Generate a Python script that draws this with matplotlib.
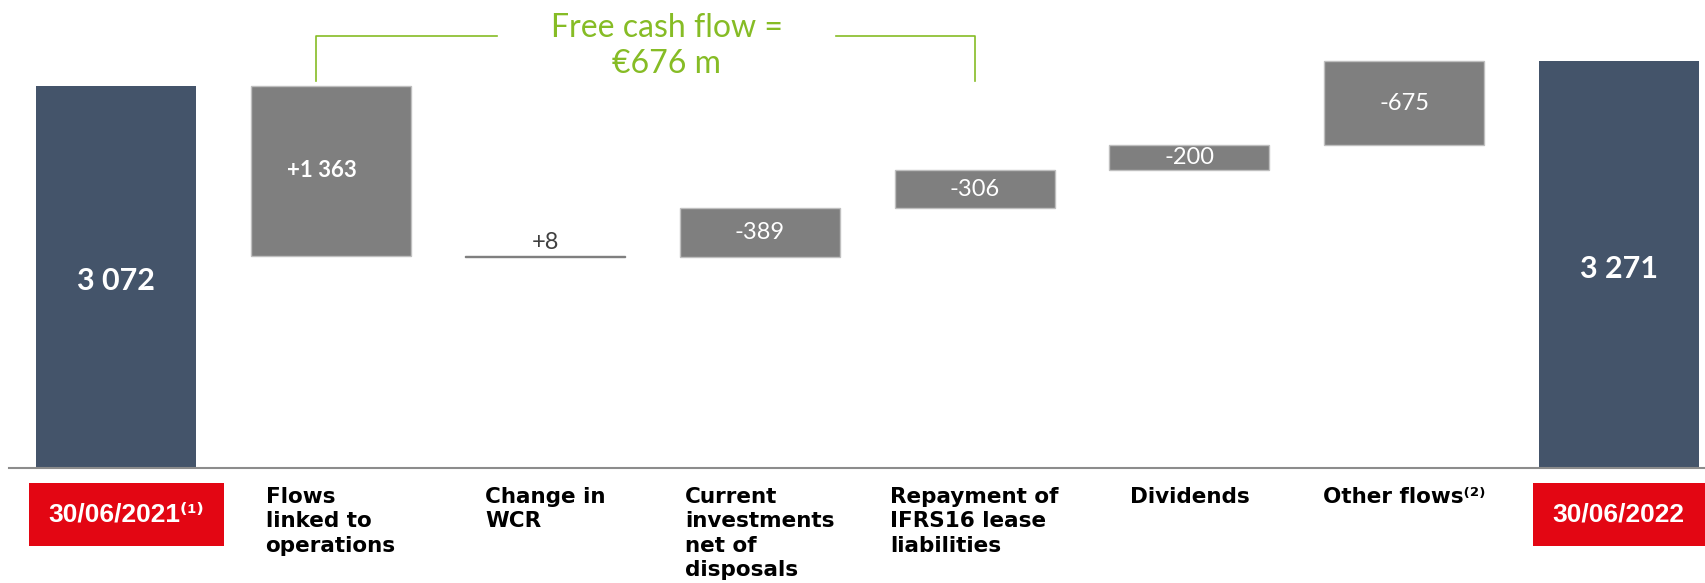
import numpy as np
import matplotlib.pyplot as plt

plt.rcParams['font.family'] = ['Lato', 'DejaVu Sans']

categories = ["30/06/2021⁽¹⁾", "Flows\nlinked to\noperations", "Change in\nWCR",
              "Current\ninvestments\nnet of\ndisposals",
              "Repayment of\nIFRS16 lease\nliabilities", "Dividends",
              "Other flows⁽²⁾", "30/06/2022"]
start_value = 3072
end_value = 3271
flows = np.array([1363, 8, -389, -306, -200, -675])
flow_labels = ["+1 363", "+8", "-389", "-306", "-200", "-675"]
total_labels = ["3 072", "3 271"]
n_fcf = 4  # os 4 primeiros fluxos = free cash flow

# a ponte é desenhada em dívida líquida: cada fluxo move o nível no sentido oposto
levels = start_value - np.concatenate([[0], np.cumsum(flows)])
bottoms = np.minimum(levels[:-1], levels[1:])
heights = np.abs(flows)

DARK = "#44546A"
GREY = "#7F7F7F"
GREEN = "#86BC25"
RED = "#E30613"

x = np.arange(len(categories))
width = 0.745

fig = plt.figure(figsize=(17.06, 5.83), dpi=100)
ax = fig.add_axes([0, 0, 1, 1])
ax.set_xlim(-0.540, 7.406)
ax.set_ylim(-921, 3761)
ax.axis('off')

#barras de início e fim
ax.bar(x[[0, -1]], [start_value, end_value], width, color=DARK, zorder=2)
for xi, v, lab in zip(x[[0, -1]], [start_value, end_value], total_labels):
    ax.text(xi, v * 0.49, lab, ha='center', va='center', color='white',
            fontsize=22, fontweight='bold')

#barras intermediárias
edges = ["#7F7F7F" if h < 50 else "#BFBFBF" for h in heights]
ax.bar(x[1:-1], heights, width, bottom=bottoms, color=GREY, edgecolor=edges,
       linewidth=1, zorder=2)
for i, (b, h, lab) in enumerate(zip(bottoms, heights, flow_labels)):
    xi = x[i + 1]
    if h < 50:
        ax.annotate(lab, (xi, b + h), xytext=(0, 2), textcoords='offset points',
                    ha='center', va='bottom', color='#404040', fontsize=17)
    elif i == 0:
        ax.text(xi - 0.04, b + h / 2, lab, ha='center', va='center', color='white',
                fontsize=16, fontweight='bold')
    else:
        ax.text(xi, b + h / 2, lab, ha='center', va='center', color='white',
                fontsize=17)

#linha do eixo
ax.axhline(0, xmin=0.005, xmax=1, color='#8C8C8C', lw=1.5, zorder=3)

#chave do free cash flow
fcf = flows[:n_fcf].sum()
xl, xr = x[1] - 0.07, x[n_fcf]
mid = (xl + xr) / 2 + 0.1
y_top = 3475
y_low = start_value + 40
ax.plot([xl, xl, mid - 0.79], [y_low, y_top, y_top], color=GREEN, lw=1.2)
ax.plot([mid + 0.79, xr, xr], [y_top, y_top, y_low], color=GREEN, lw=1.2)
ax.text(mid, 3392, f"Free cash flow =\n€{fcf} m", ha='center', va='center',
        color=GREEN, fontsize=23, linespacing=1.25)

#rótulos das categorias
for i in range(1, len(categories) - 1):
    ax.text(x[i], -150, categories[i], ha='center', va='top', multialignment='left',
            fontsize=15.5, fontweight='bold', family='DejaVu Sans', color='black',
            linespacing=1.28)

#datas em caixas vermelhas
for i in [0, len(categories) - 1]:
    ax.text(x[i] + (0.05 if i == 0 else 0), -370, categories[i], ha='center',
            va='center', color='white', fontsize=19, fontweight='bold',
            family=['Liberation Sans', 'DejaVu Sans'],
            bbox=dict(boxstyle='square,pad=0.75', fc=RED, ec='none'))

fig.savefig("out.png", dpi=100)
